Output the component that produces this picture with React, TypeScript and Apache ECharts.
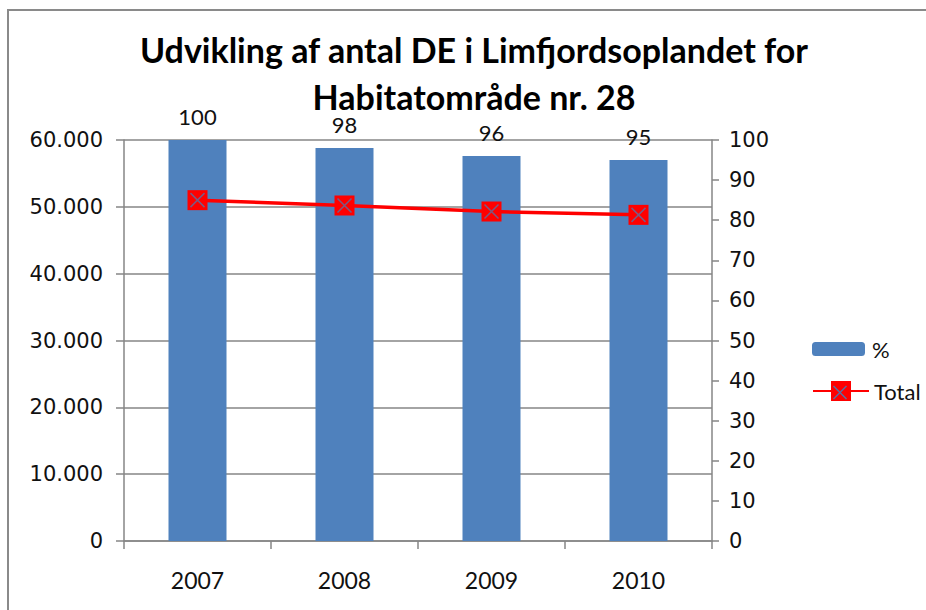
import React, { useEffect, useRef } from "react";
import * as echarts from "echarts";

const categories = ["2007", "2008", "2009", "2010"];
const percentValues = [100, 98, 96, 95];
const totalValues = [51000, 50200, 49300, 48800];
const leftTicks = { min: 0, max: 60000, interval: 10000 };
const rightTicks = { min: 0, max: 100, interval: 10 };

const GREY = "#868686";
const XCOLOR = "#5b6fa3";

export default function App() {
  const ref = useRef<HTMLDivElement>(null);
  useEffect(() => {
    if (!ref.current) return;
    const chart = echarts.init(ref.current, null, { renderer: "svg" });
    const fmtLeft = (v: number) => (v === 0 ? "0" : `${v / 1000}.000`);
    chart.setOption({
      animation: false,
      backgroundColor: "#ffffff",
      title: {
        text: "Udvikling af antal DE i Limfjordsoplandet for\nHabitatområde nr. 28",
        left: 469,
        top: 21,
        textAlign: "center",
        textStyle: {
          fontFamily: "Lato",
          fontWeight: "bold",
          fontSize: 34,
          lineHeight: 47,
          color: "#000",
        },
      },
      graphic: [
        {
          type: "rect",
          shape: { x: 8, y: 10, width: 1000, height: 1000 },
          style: { fill: "none", stroke: "#8a8a8a", lineWidth: 2 },
          silent: true,
          z: -10,
        },
        {
          type: "line",
          shape: { x1: 833.5, y1: 386, x2: 846.5, y2: 399 },
          style: { stroke: XCOLOR, lineWidth: 1.5 },
          silent: true,
          z: 100,
          zlevel: 0,
        },
        {
          type: "line",
          shape: { x1: 846.5, y1: 386, x2: 833.5, y2: 399 },
          style: { stroke: XCOLOR, lineWidth: 1.5 },
          silent: true,
          z: 100,
        },
      ],
      legend: [
        {
          data: ["%"],
          orient: "vertical",
          left: 812,
          top: 338,
          padding: 0,
          itemWidth: 53,
          itemHeight: 14,
          itemGap: 10,
          textStyle: { fontFamily: "Lato", fontSize: 22, color: "#111", padding: [0, 0, 0, 2] },
        },
        {
          data: ["Total"],
          orient: "vertical",
          left: 812,
          top: 380,
          padding: 0,
          itemWidth: 56,
          itemHeight: 25,
          itemGap: 10,
          textStyle: { fontFamily: "Lato", fontSize: 22, color: "#111" },
        },
      ],
      grid: { left: 124, right: 214, top: 140, bottom: 69, containLabel: false },
      xAxis: {
        type: "category",
        data: categories,
        axisLine: { lineStyle: { color: GREY, width: 1.5 } },
        axisTick: { show: true, length: 8, lineStyle: { color: GREY, width: 1.5 } },
        axisLabel: { fontFamily: "Lato", fontSize: 23, color: "#111", margin: 27 },
      },
      yAxis: [
        {
          type: "value",
          position: "left",
          min: leftTicks.min,
          max: leftTicks.max,
          interval: leftTicks.interval,
          axisLine: { show: true, lineStyle: { color: GREY, width: 1.5 } },
          axisTick: { show: true, length: 8, lineStyle: { color: GREY, width: 1.5 } },
          splitLine: { show: true, lineStyle: { color: GREY, width: 1.5 } },
          axisLabel: {
            fontFamily: "DejaVu Sans",
            fontSize: 21,
            color: "#111",
            margin: 21,
            formatter: fmtLeft,
          },
        },
        {
          type: "value",
          position: "right",
          min: rightTicks.min,
          max: rightTicks.max,
          interval: rightTicks.interval,
          axisLine: { show: true, lineStyle: { color: GREY, width: 1.5 } },
          axisTick: { show: true, length: 7, lineStyle: { color: GREY, width: 1.5 } },
          splitLine: { show: false },
          axisLabel: { fontFamily: "DejaVu Sans", fontSize: 21, color: "#111", margin: 17 },
        },
      ],
      series: [
        {
          name: "%",
          type: "bar",
          yAxisIndex: 1,
          data: percentValues,
          barWidth: 58,
          itemStyle: { color: "#4F81BD" },
          label: {
            show: true,
            position: "top",
            distance: 13,
            fontFamily: "Lato",
            fontSize: 22,
            color: "#111",
          },
          z: 2,
        },
        {
          name: "Total",
          type: "line",
          yAxisIndex: 0,
          data: totalValues,
          symbol: "rect",
          symbolSize: 20,
          lineStyle: { color: "#FF0000", width: 3.5 },
          itemStyle: { color: "#FF0000" },
          z: 3,
        },
        {
          name: "TotalMarker",
          type: "scatter",
          yAxisIndex: 0,
          data: totalValues,
          symbol: "path://M0,0L10,10M10,0L0,10",
          symbolSize: 14,
          itemStyle: { color: "none", borderColor: XCOLOR, borderWidth: 1.5 },
          silent: true,
          z: 4,
        },
      ],
    });
    return () => chart.dispose();
  }, []);
  return (
    <div
      ref={ref}
      style={{ position: "fixed", left: 0, top: 0, width: 926, height: 610 }}
    />
  );
}
